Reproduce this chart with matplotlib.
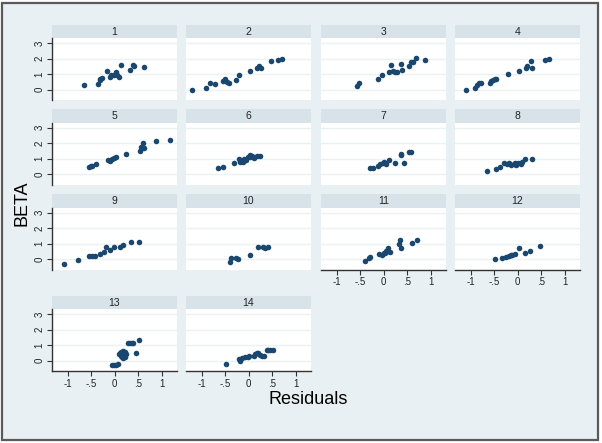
import matplotlib.pyplot as plt
from matplotlib.patches import Rectangle

plt.rcParams['font.family'] = ['Liberation Sans', 'DejaVu Sans']

# residuals (x) and BETA (y) for each of the 14 groups
res_01 = [-0.66, -0.35, -0.32, -0.30, -0.27, -0.17, -0.10, -0.07, -0.01, 0.03, 0.06, 0.10, 0.14, 0.32, 0.40, 0.42, 0.63]
beta_01 = [0.29, 0.38, 0.60, 0.71, 0.78, 1.18, 0.82, 0.93, 0.93, 1.11, 0.93, 0.84, 1.60, 1.29, 1.62, 1.51, 1.49]

res_02 = [-1.21, -0.90, -0.83, -0.71, -0.55, -0.51, -0.45, -0.42, -0.27, -0.20, 0.03, 0.18, 0.22, 0.27, 0.48, 0.63, 0.70]
beta_02 = [-0.04, 0.11, 0.42, 0.33, 0.53, 0.67, 0.49, 0.42, 0.64, 0.96, 1.20, 1.40, 1.51, 1.40, 1.87, 1.93, 1.96]

res_03 = [-0.56, -0.52, -0.12, -0.04, 0.11, 0.16, 0.20, 0.24, 0.28, 0.37, 0.40, 0.55, 0.59, 0.63, 0.68, 0.87]
beta_03 = [0.22, 0.44, 0.69, 0.96, 1.16, 1.60, 1.18, 1.16, 1.13, 1.67, 1.29, 1.51, 1.78, 1.82, 2.04, 1.89]

res_04 = [-1.10, -0.91, -0.87, -0.82, -0.77, -0.59, -0.56, -0.53, -0.49, -0.46, -0.21, 0.03, 0.18, 0.20, 0.29, 0.31, 0.59, 0.66]
beta_04 = [-0.04, 0.11, 0.31, 0.40, 0.44, 0.44, 0.56, 0.62, 0.67, 0.67, 0.98, 1.20, 1.42, 1.51, 1.87, 1.42, 1.93, 1.96]

res_05 = [-0.54, -0.51, -0.47, -0.40, -0.13, -0.10, -0.06, -0.01, 0.04, 0.24, 0.54, 0.56, 0.60, 0.58, 0.63, 0.89, 1.18]
beta_05 = [0.47, 0.49, 0.51, 0.62, 0.91, 0.82, 0.98, 1.04, 1.09, 1.27, 1.51, 1.76, 2.04, 1.67, 1.67, 2.13, 2.20]

res_06 = [-0.64, -0.54, -0.31, -0.21, -0.18, -0.13, -0.09, -0.05, -0.01, 0.02, 0.07, 0.12, 0.17, 0.25, -0.12, 0.04]
beta_06 = [0.40, 0.44, 0.69, 0.98, 0.80, 0.87, 0.96, 0.91, 1.09, 1.24, 1.16, 1.02, 1.18, 1.18, 0.76, 1.09]

res_07 = [-0.28, -0.23, -0.12, -0.07, -0.02, 0.01, 0.05, 0.11, 0.24, 0.38, 0.38, 0.43, 0.54, 0.59]
beta_07 = [0.36, 0.40, 0.53, 0.62, 0.73, 0.80, 0.62, 0.91, 0.71, 1.20, 1.31, 0.71, 1.42, 1.44]

res_08 = [-0.65, -0.45, -0.38, -0.28, -0.23, -0.19, -0.13, -0.08, -0.03, 0.01, 0.07, 0.16, 0.31, 0.10, -0.05]
beta_08 = [0.16, 0.33, 0.44, 0.73, 0.62, 0.69, 0.58, 0.62, 0.58, 0.73, 0.67, 0.96, 0.96, 0.80, 0.70]

res_09 = [-1.07, -0.77, -0.54, -0.49, -0.42, -0.32, -0.22, -0.18, -0.09, -0.01, 0.12, 0.18, 0.34, 0.52]
beta_09 = [-0.31, -0.07, 0.20, 0.22, 0.22, 0.33, 0.42, 0.80, 0.56, 0.80, 0.80, 0.93, 1.07, 1.09]

res_10 = [-0.40, -0.37, -0.26, -0.23, 0.02, 0.21, 0.30, 0.35, 0.41]
beta_10 = [-0.22, 0.04, 0.04, 0.00, 0.27, 0.76, 0.76, 0.74, 0.76]

res_11 = [-0.39, -0.32, -0.29, -0.09, -0.04, 0.00, 0.04, 0.06, 0.09, 0.10, 0.13, 0.32, 0.35, 0.36, 0.60, 0.70]
beta_11 = [-0.11, 0.04, 0.11, 0.31, 0.27, 0.36, 0.40, 0.49, 0.71, 0.49, 0.44, 1.00, 1.22, 0.71, 1.02, 1.24]

res_12 = [-0.49, -0.34, -0.25, -0.19, -0.15, -0.12, -0.06, 0.03, 0.16, 0.26, 0.47]
beta_12 = [-0.02, 0.09, 0.11, 0.20, 0.24, 0.27, 0.33, 0.71, 0.38, 0.51, 0.82]

res_13 = [-0.06, -0.01, 0.04, 0.08, 0.09, 0.12, 0.15, 0.17, 0.19, 0.21, 0.23, 0.25, 0.14, 0.18, 0.22,
          0.13, 0.20, 0.28, 0.32, 0.37, 0.40, 0.45, 0.52]
beta_13 = [-0.30, -0.30, -0.28, -0.24, 0.40, 0.48, 0.25, 0.15, 0.52, 0.33, 0.55, 0.45, 0.58, 0.62, 0.20,
           0.32, 0.42, 1.11, 1.13, 1.13, 1.15, 0.46, 1.33]

res_14 = [-0.48, -0.20, -0.18, -0.14, -0.07, -0.02, 0.01, 0.12, 0.14, 0.18, 0.21, 0.25, 0.28, 0.32, 0.39, 0.42, 0.46, 0.51]
beta_14 = [-0.24, 0.09, -0.02, 0.15, 0.24, 0.24, 0.30, 0.28, 0.41, 0.48, 0.46, 0.37, 0.30, 0.30, 0.67, 0.67, 0.67, 0.70]

panels = [
    (res_01, beta_01), (res_02, beta_02), (res_03, beta_03), (res_04, beta_04),
    (res_05, beta_05), (res_06, beta_06), (res_07, beta_07), (res_08, beta_08),
    (res_09, beta_09), (res_10, beta_10), (res_11, beta_11), (res_12, beta_12),
    (res_13, beta_13), (res_14, beta_14),
]

x_ticks = [-1, -0.5, 0, 0.5, 1]
x_labels = ['-1', '-.5', '0', '.5', '1']
y_ticks = [0, 1, 2, 3]

W, H = 602, 443
BG = '#E9F0F3'
STRIP = '#D7E3E9'
NAVY = '#1A476F'
AXC = '#333333'

fig = plt.figure(figsize=(W / 100, H / 100), dpi=100, facecolor='white')

# outer frame, kept behind the panels
fig.patches.append(Rectangle((2 / W, 1 - 440 / H), 596 / W, 437 / H, transform=fig.transFigure,
                             facecolor=BG, edgecolor='#5a5a5a', linewidth=1.6, zorder=-10))

col_left = [52, 186, 321, 455]
row_top = [38.3, 122.7, 207.7, 309.3]
pw, ph, sh = 124.7, 62, 13.3


def px_axes(x, y, w, h):
    return fig.add_axes([x / W, 1 - (y + h) / H, w / W, h / H])


for i, (xs, ys) in enumerate(panels):
    r, c = divmod(i, 4)
    x0, y0 = col_left[c], row_top[r]

    # strip header
    st = px_axes(x0, y0 - sh, pw, sh)
    st.set_facecolor(STRIP)
    st.set_xticks([])
    st.set_yticks([])
    for s in st.spines.values():
        s.set_visible(False)
    st.text(0.5, 0.5, str(i + 1), ha='center', va='center', fontsize=7.5, color='#222222',
            transform=st.transAxes)

    ax = px_axes(x0, y0, pw, ph)
    ax.set_facecolor('white')
    ax.set_xlim(-1.33, 1.32)
    ax.set_ylim(-0.7, 3.33)
    for yv in y_ticks:
        ax.axhline(yv, color='#EAF2F3', linewidth=1.0, zorder=1)
    ax.scatter(xs, ys, s=16, color=NAVY, linewidths=0, zorder=3)

    for s in ax.spines.values():
        s.set_visible(False)

    show_left = c == 0
    show_bottom = i >= 10
    ax.set_yticks(y_ticks)
    ax.set_xticks(x_ticks)
    if show_left:
        ax.spines['left'].set_visible(True)
        ax.spines['left'].set_color(AXC)
        ax.spines['left'].set_linewidth(1.0)
        ax.set_yticklabels([str(v) for v in y_ticks], rotation=90, va='center')
        ax.tick_params(axis='y', length=3.5, width=0.8, color=AXC, labelsize=7, pad=2,
                       labelcolor='#222222')
    else:
        ax.tick_params(axis='y', left=False, labelleft=False)
    if show_bottom:
        ax.spines['bottom'].set_visible(True)
        ax.spines['bottom'].set_color(AXC)
        ax.spines['bottom'].set_linewidth(1.0)
        ax.set_xticklabels(x_labels)
        ax.tick_params(axis='x', length=3.5, width=0.8, color=AXC, labelsize=7, pad=2,
                       labelcolor='#222222')
    else:
        ax.tick_params(axis='x', bottom=False, labelbottom=False)

fig.text(22 / W, 1 - 203 / H, 'BETA', rotation=90, ha='center', va='center', fontsize=13, color='black')
fig.text(308 / W, 1 - 399 / H, 'Residuals', ha='center', va='center', fontsize=13, color='black')

fig.savefig('out.png', dpi=100, facecolor='white')
